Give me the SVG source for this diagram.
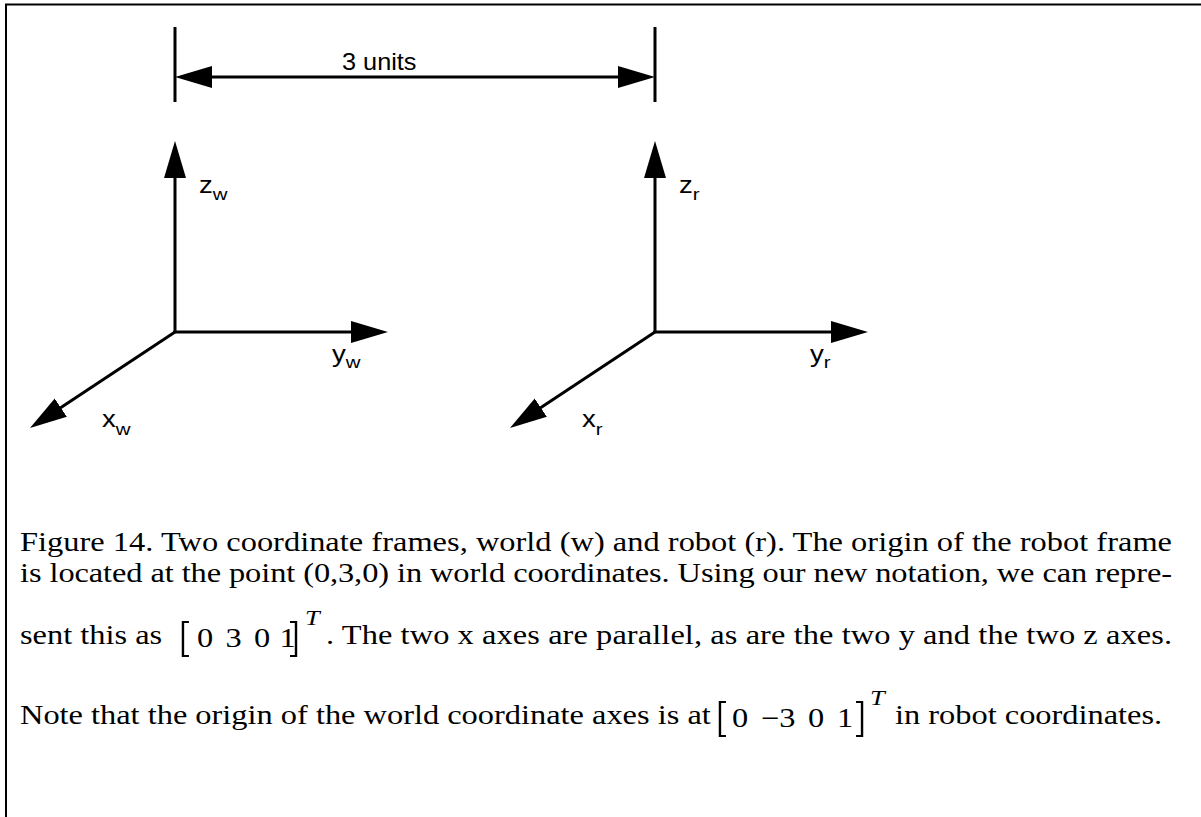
<svg xmlns="http://www.w3.org/2000/svg" width="1201" height="817" viewBox="0 0 1201 817">
<style>
.ln{stroke:#000;stroke-width:3;fill:none}
.br{stroke:#000;stroke-width:2;fill:none}
.lab{font-family:"Liberation Sans",Arial,sans-serif;font-size:23px;fill:#000}
.sub{font-size:17px}
.cap{font-family:"Liberation Serif","Times New Roman",serif;font-size:27px;fill:#000}
.sup{font-family:"Liberation Serif","Times New Roman",serif;font-size:22px;font-style:italic;fill:#000}
</style>
<defs>
<marker id="ah" markerUnits="userSpaceOnUse" markerWidth="40" markerHeight="24" refX="27" refY="11" orient="auto-start-reverse">
<path d="M0,0 L37,11 L0,22 Z" fill="#000"/>
</marker>
</defs>
<rect width="1201" height="817" fill="#fff"/>
<g id="border">
<line x1="6" y1="4" x2="6" y2="817" stroke="#000" stroke-width="2"/>
<line x1="5" y1="4.5" x2="1201" y2="4.5" stroke="#000" stroke-width="2"/>
</g>
<g id="connectors">
<line class="ln" x1="175" y1="27" x2="175" y2="102"/>
<line class="ln" x1="655" y1="27" x2="655" y2="102"/>
<line class="ln" x1="185" y1="77" x2="645" y2="77" marker-start="url(#ah)" marker-end="url(#ah)"/>
<line class="ln" x1="175" y1="332" x2="175" y2="151" marker-end="url(#ah)"/>
<line class="ln" x1="173.5" y1="332" x2="378" y2="332" marker-end="url(#ah)"/>
<line class="ln" x1="175" y1="332" x2="38.3" y2="422.5" marker-end="url(#ah)"/>
<line class="ln" x1="655" y1="332" x2="655" y2="151" marker-end="url(#ah)"/>
<line class="ln" x1="653.5" y1="332" x2="858" y2="332" marker-end="url(#ah)"/>
<line class="ln" x1="655" y1="332" x2="518.3" y2="422.5" marker-end="url(#ah)"/>
</g>
<g id="dimension-label"><text class="lab" transform="translate(342,70) scale(1.1,1)">3 units</text></g>
<g id="world-frame">
<text class="lab" transform="translate(199,193) scale(1.2,1)">z<tspan class="sub" dy="7">w</tspan></text>
<text class="lab" transform="translate(332,362) scale(1.2,1)">y<tspan class="sub" dy="6">w</tspan></text>
<text class="lab" transform="translate(102,427) scale(1.2,1)">x<tspan class="sub" dy="8">w</tspan></text>
</g>
<g id="robot-frame">
<text class="lab" transform="translate(679,193) scale(1.2,1)">z<tspan class="sub" dy="7">r</tspan></text>
<text class="lab" transform="translate(810,362) scale(1.2,1)">y<tspan class="sub" dy="6">r</tspan></text>
<text class="lab" transform="translate(582,427) scale(1.2,1)">x<tspan class="sub" dy="8">r</tspan></text>
</g>
<g id="caption" transform="matrix(1.2,0,0,1,-4,0)">
<text class="cap" x="20" y="551" textLength="960" lengthAdjust="spacing">Figure 14. Two coordinate frames, world (w) and robot (r). The origin of the robot frame</text>
<text class="cap" x="20" y="582" textLength="960" lengthAdjust="spacing">is located at the point (0,3,0) in world coordinates. Using our new notation, we can repre-</text>
<text class="cap" x="20" y="644">sent this as</text>
<path class="br" d="M160.8,622 H155.8 V656 H160.8"/>
<text class="cap" x="167.5" y="647">0</text>
<text class="cap" x="191.3" y="647">3</text>
<text class="cap" x="215" y="647">0</text>
<text class="cap" x="236.2" y="647">1</text>
<path class="br" d="M245,622 H250 V656 H245"/>
<text class="sup" x="257.5" y="625">T</text>
<text class="cap" x="275" y="644" textLength="705" lengthAdjust="spacing">. The two x axes are parallel, as are the two y and the two z axes.</text>
<text class="cap" x="20" y="724">Note that the origin of the world coordinate axes is at</text>
<path class="br" d="M608.3,702 H603.3 V736 H608.3"/>
<text class="cap" x="613.3" y="727">0</text>
<text class="cap" x="637.5" y="727">−3</text>
<text class="cap" x="676.7" y="727">0</text>
<text class="cap" x="700.8" y="727">1</text>
<path class="br" d="M716.7,702 H721.7 V736 H716.7"/>
<text class="sup" x="728.3" y="705">T</text>
<text class="cap" x="749.2" y="724">in robot coordinates.</text>
</g>
</svg>
